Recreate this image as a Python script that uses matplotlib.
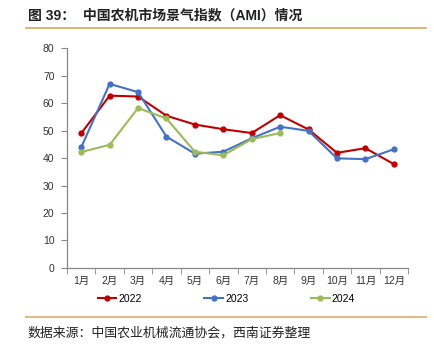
import matplotlib.pyplot as plt
import matplotlib.lines as mlines
import numpy as np

plt.rcParams['font.family'] = ['Liberation Sans', 'Noto Sans CJK SC', 'DejaVu Sans']

months = ['1月', '2月', '3月', '4月', '5月', '6月', '7月', '8月', '9月', '10月', '11月', '12月']
ami_2022 = [49.0, 62.7, 62.4, 55.4, 52.2, 50.5, 49.1, 55.6, 50.4, 41.9, 43.6, 37.8]
ami_2023 = [43.9, 67.0, 64.0, 47.8, 41.6, 42.3, 47.2, 51.4, 49.9, 39.9, 39.6, 43.2]
ami_2024 = [42.2, 44.8, 58.2, 54.4, 42.3, 41.0, 46.9, 49.1]

colors = {'2022': '#C00000', '2023': '#4472C4', '2024': '#9BBB59'}

fig = plt.figure(figsize=(4.35, 3.54), dpi=100)
ax = fig.add_axes([0.154, 0.243, 0.784, 0.621])

x = np.arange(len(months))
series = [('2022', ami_2022), ('2023', ami_2023), ('2024', ami_2024)]
for name, vals in series:
    ax.plot(x[:len(vals)], vals, color=colors[name], lw=1.5, marker='o', ms=3.5, label=name)

ax.set_xlim(-0.5, 11.5)
ax.set_ylim(0, 80)
ax.set_yticks(range(0, 81, 10))
ax.set_xticks(x)
ax.set_xticklabels(months)
ax.set_xticks(np.arange(-0.5, 12, 1), minor=True)
ax.tick_params(axis='x', which='major', length=0, pad=6, labelsize=7.5, colors='#333333')
ax.tick_params(axis='x', which='minor', length=4, color='#888888', direction='out')
ax.tick_params(axis='y', length=4, color='#888888', labelsize=7.5, colors='#333333', pad=5)
for s in ['top', 'right']:
    ax.spines[s].set_visible(False)
for s in ['left', 'bottom']:
    ax.spines[s].set_color('#888888')
    ax.spines[s].set_linewidth(0.9)

handles = [mlines.Line2D([], [], color=colors[n], lw=1.5, marker='o', ms=3.5) for n, _ in series]
fig.legend(handles, [n for n, _ in series], loc='center', bbox_to_anchor=(0.52, 0.155),
           ncol=3, frameon=False, fontsize=7.5, handlelength=1.8, columnspacing=6.0,
           handletextpad=0.2)

fig.text(0.064, 0.957, '图 39：  中国农机市场景气指数（AMI）情况', fontsize=10,
         fontweight='bold', va='center', ha='left', color='#222222')
fig.add_artist(mlines.Line2D([0.06, 0.98], [0.921, 0.921], color='#D9A85E', lw=1.2))
fig.add_artist(mlines.Line2D([0.06, 0.98], [0.104, 0.104], color='#D9BE85', lw=1.5))
fig.text(0.062, 0.058, '数据来源：中国农业机械流通协会，西南证券整理', fontsize=9.3,
         style='italic', va='center', ha='left', color='#222222')

fig.savefig('out.png', dpi=100)
